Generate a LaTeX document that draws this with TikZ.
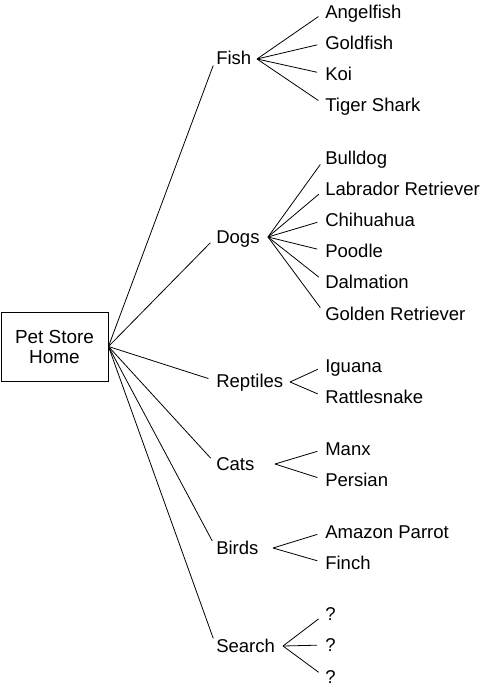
\documentclass[tikz,border=0pt]{standalone}
\usepackage{fontspec}
\setmainfont{Liberation Sans}
\begin{document}
\begin{tikzpicture}[x=0.75pt,y=-0.75pt,
  lbl/.style={anchor=west,inner xsep=0pt,inner ysep=0pt,text height=9.9pt,text depth=0pt,
    font=\fontsize{13.9pt}{16pt}\selectfont},
  conn/.style={line width=0.6pt,shorten >=6pt},
  fan/.style={line width=0.6pt,shorten >=6pt}]
\useasboundingbox (0,0) rectangle (480,689);
\node[draw,line width=0.7pt,minimum width=80.25pt,minimum height=51.75pt,inner sep=0pt,align=center,
  font=\fontsize{14.2pt}{15pt}\selectfont] (root) at (54.5,346.5) {Pet Store\\Home};
% categories
\node[lbl] (fish) at (216,58) {Fish};
\node[lbl] (dogs) at (216,237) {Dogs};
\node[lbl] (rept) at (216,381) {Reptiles};
\node[lbl] (cats) at (216,464) {Cats};
\node[lbl] (birds) at (216,548) {Birds};
\node[lbl] (search) at (216,646) {Search};
% fan apexes
\coordinate (fishA) at (257,59);
\coordinate (dogsA) at (268,237);
\coordinate (reptA) at (290,382);
\coordinate (catsA) at (275,464);
\coordinate (birdsA) at (273,548);
\coordinate (searchA) at (283,646);
% leaves
\node[lbl] (l1) at (325,12) {Angelfish};
\node[lbl] (l2) at (325,43) {Goldfish};
\node[lbl] (l3) at (325,74) {Koi};
\node[lbl] (l4) at (325,105) {Tiger Shark};
\node[lbl] (d1) at (325,158) {Bulldog};
\node[lbl] (d2) at (325,189) {Labrador Retriever};
\node[lbl] (d3) at (325,220) {Chihuahua};
\node[lbl] (d4) at (325,251) {Poodle};
\node[lbl] (d5) at (325,282) {Dalmation};
\node[lbl] (d6) at (325,314) {Golden Retriever};
\node[lbl] (r1) at (325,366) {Iguana};
\node[lbl] (r2) at (325,397) {Rattlesnake};
\node[lbl] (c1) at (325,449) {Manx};
\node[lbl] (c2) at (325,480) {Persian};
\node[lbl] (b1) at (325,532) {Amazon Parrot};
\node[lbl] (b2) at (325,563) {Finch};
\node[lbl] (s1) at (325,614) {?};
\node[lbl] (s2) at (325,645) {?};
\node[lbl] (s3) at (325,677) {?};
% root connectors
\foreach \c in {fish,dogs,rept,cats,birds,search}
  \draw[conn] (root.east) -- (\c.west);
% fans
\foreach \l in {l1,l2,l3,l4} \draw[fan] (fishA) -- (\l.west);
\foreach \l in {d1,d2,d3,d4,d5,d6} \draw[fan] (dogsA) -- (\l.west);
\foreach \l in {r1,r2} \draw[fan] (reptA) -- (\l.west);
\foreach \l in {c1,c2} \draw[fan] (catsA) -- (\l.west);
\foreach \l in {b1,b2} \draw[fan] (birdsA) -- (\l.west);
\foreach \l in {s1,s2,s3} \draw[fan] (searchA) -- (\l.west);
\end{tikzpicture}
\end{document}
